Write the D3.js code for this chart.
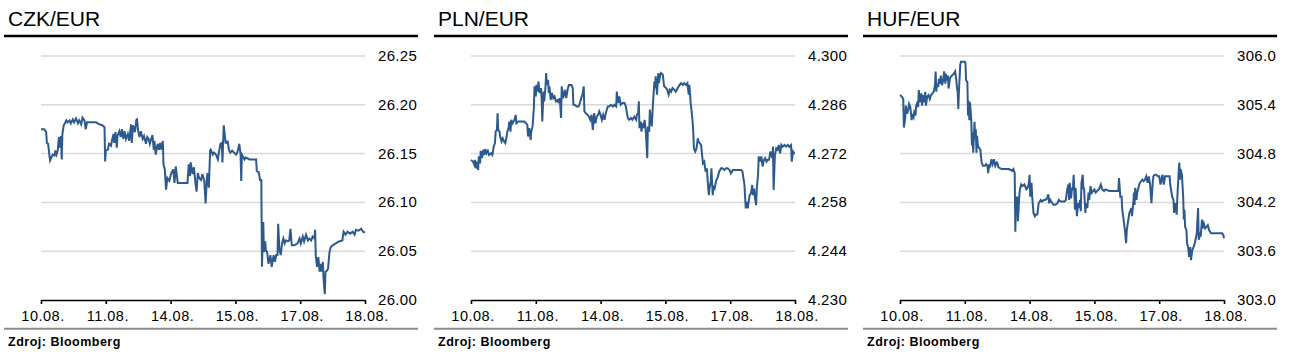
<!DOCTYPE html>
<html>
<head>
<meta charset="utf-8">
<script src="https://cdn.jsdelivr.net/npm/d3@7"></script>
<style>
  html, body { margin: 0; padding: 0; background: #fff; }
  svg { display: block; font-family: "Liberation Sans", Arial, sans-serif; }
</style>
</head>
<body>
<svg id="chart" width="1292" height="355"></svg>
<script>
// Day ticks (categorical trading days, equally spaced)
const dayLabels = ["10.08.", "11.08.", "14.08.", "15.08.", "17.08.", "18.08."];
const titles = ["CZK/EUR", "PLN/EUR", "HUF/EUR"];
const sourceText = "Zdroj: Bloomberg";

const czkTicks = [26.00, 26.05, 26.10, 26.15, 26.20, 26.25];
const plnTicks = [4.230, 4.244, 4.258, 4.272, 4.286, 4.300];
const hufTicks = [303.0, 303.6, 304.2, 304.8, 305.4, 306.0];

// [time in trading days from 10.08., rate]
const czkSeries = [[0,26.175],[0.05,26.175],[0.08,26.172],[0.09,26.161],[0.11,26.160],[0.13,26.148],[0.14,26.143],[0.16,26.146],[0.18,26.149],[0.21,26.148],[0.22,26.153],[0.24,26.149],[0.26,26.154],[0.27,26.163],[0.28,26.167],[0.29,26.156],[0.31,26.168],[0.32,26.144],[0.33,26.170],[0.35,26.179],[0.37,26.181],[0.39,26.184],[0.41,26.182],[0.44,26.184],[0.46,26.181],[0.49,26.185],[0.51,26.182],[0.54,26.186],[0.57,26.181],[0.59,26.184],[0.62,26.180],[0.64,26.187],[0.67,26.184],[0.69,26.175],[0.71,26.182],[0.75,26.182],[0.80,26.182],[0.85,26.182],[0.90,26.180],[0.95,26.179],[0.98,26.177],[0.99,26.142],[1.00,26.153],[1.03,26.154],[1.05,26.160],[1.08,26.158],[1.10,26.165],[1.12,26.170],[1.13,26.161],[1.15,26.172],[1.17,26.156],[1.18,26.168],[1.21,26.173],[1.23,26.167],[1.25,26.175],[1.27,26.165],[1.29,26.173],[1.31,26.165],[1.34,26.170],[1.36,26.163],[1.39,26.180],[1.40,26.161],[1.42,26.179],[1.45,26.172],[1.47,26.184],[1.48,26.186],[1.50,26.173],[1.52,26.167],[1.54,26.173],[1.57,26.165],[1.59,26.168],[1.62,26.160],[1.64,26.167],[1.66,26.165],[1.68,26.160],[1.70,26.165],[1.72,26.169],[1.74,26.154],[1.75,26.163],[1.77,26.149],[1.80,26.160],[1.82,26.154],[1.84,26.161],[1.86,26.154],[1.88,26.163],[1.89,26.139],[1.91,26.134],[1.93,26.113],[1.95,26.125],[1.98,26.122],[2.01,26.130],[2.03,26.132],[2.04,26.134],[2.06,26.120],[2.08,26.137],[2.11,26.120],[2.16,26.120],[2.21,26.120],[2.26,26.120],[2.28,26.139],[2.30,26.127],[2.31,26.141],[2.34,26.129],[2.36,26.136],[2.38,26.122],[2.40,26.111],[2.42,26.130],[2.44,26.125],[2.47,26.123],[2.49,26.129],[2.52,26.122],[2.54,26.099],[2.56,26.125],[2.57,26.130],[2.59,26.115],[2.61,26.153],[2.62,26.154],[2.65,26.149],[2.67,26.151],[2.70,26.149],[2.73,26.144],[2.75,26.153],[2.77,26.160],[2.79,26.161],[2.80,26.141],[2.82,26.179],[2.83,26.173],[2.84,26.167],[2.85,26.161],[2.87,26.161],[2.88,26.163],[2.90,26.154],[2.92,26.151],[2.95,26.153],[2.98,26.151],[3.01,26.149],[3.03,26.151],[3.06,26.160],[3.08,26.149],[3.09,26.122],[3.10,26.149],[3.14,26.144],[3.16,26.146],[3.22,26.144],[3.27,26.144],[3.32,26.144],[3.33,26.132],[3.36,26.131],[3.38,26.123],[3.40,26.123],[3.41,26.034],[3.43,26.080],[3.44,26.049],[3.46,26.060],[3.47,26.051],[3.49,26.049],[3.51,26.037],[3.54,26.046],[3.56,26.034],[3.59,26.046],[3.61,26.039],[3.63,26.046],[3.65,26.046],[3.66,26.078],[3.68,26.051],[3.70,26.046],[3.72,26.058],[3.74,26.063],[3.76,26.058],[3.78,26.061],[3.81,26.060],[3.83,26.061],[3.85,26.073],[3.87,26.056],[3.91,26.056],[3.96,26.058],[3.99,26.063],[4.01,26.058],[4.04,26.065],[4.06,26.060],[4.09,26.067],[4.12,26.061],[4.14,26.063],[4.17,26.061],[4.19,26.065],[4.22,26.063],[4.23,26.072],[4.24,26.046],[4.26,26.034],[4.28,26.044],[4.30,26.029],[4.32,26.037],[4.33,26.029],[4.35,26.039],[4.36,26.022],[4.38,26.006],[4.39,26.029],[4.41,26.030],[4.43,26.032],[4.45,26.048],[4.47,26.054],[4.50,26.056],[4.55,26.058],[4.60,26.060],[4.65,26.061],[4.67,26.070],[4.70,26.067],[4.73,26.070],[4.77,26.068],[4.81,26.070],[4.84,26.067],[4.86,26.072],[4.90,26.071],[4.94,26.073],[4.97,26.070],[5.00,26.069]];

const plnSeries = [[0.00,4.2702],[0.03,4.2697],[0.05,4.2688],[0.06,4.2702],[0.08,4.2678],[0.09,4.2697],[0.11,4.2673],[0.12,4.2712],[0.14,4.2692],[0.15,4.2728],[0.17,4.2707],[0.19,4.2731],[0.21,4.2716],[0.22,4.2733],[0.24,4.2721],[0.26,4.2728],[0.28,4.2716],[0.31,4.2721],[0.33,4.2716],[0.35,4.2740],[0.37,4.2750],[0.38,4.2783],[0.40,4.2788],[0.41,4.2836],[0.42,4.2788],[0.44,4.2783],[0.45,4.2769],[0.47,4.2755],[0.49,4.2764],[0.51,4.2755],[0.53,4.2750],[0.55,4.2769],[0.56,4.2783],[0.58,4.2793],[0.59,4.2812],[0.61,4.2783],[0.62,4.2817],[0.64,4.2807],[0.67,4.2817],[0.69,4.2831],[0.70,4.2807],[0.73,4.2812],[0.77,4.2812],[0.82,4.2812],[0.85,4.2807],[0.87,4.2802],[0.88,4.2769],[0.90,4.2793],[0.92,4.2759],[0.93,4.2783],[0.95,4.2798],[0.97,4.2850],[0.98,4.2913],[1.00,4.2884],[1.01,4.2917],[1.03,4.2898],[1.04,4.2927],[1.06,4.2894],[1.08,4.2908],[1.09,4.2879],[1.10,4.2812],[1.12,4.2898],[1.13,4.2870],[1.15,4.2913],[1.16,4.2951],[1.17,4.2917],[1.19,4.2932],[1.20,4.2894],[1.21,4.2913],[1.23,4.2874],[1.25,4.2894],[1.27,4.2879],[1.29,4.2884],[1.31,4.2870],[1.34,4.2874],[1.35,4.2865],[1.37,4.2879],[1.39,4.2822],[1.40,4.2913],[1.42,4.2879],[1.44,4.2894],[1.45,4.2903],[1.47,4.2879],[1.49,4.2903],[1.51,4.2917],[1.53,4.2917],[1.55,4.2917],[1.57,4.2908],[1.58,4.2860],[1.60,4.2860],[1.63,4.2855],[1.66,4.2855],[1.68,4.2865],[1.70,4.2879],[1.72,4.2889],[1.74,4.2913],[1.75,4.2841],[1.77,4.2836],[1.80,4.2831],[1.82,4.2826],[1.84,4.2817],[1.86,4.2831],[1.88,4.2788],[1.90,4.2836],[1.92,4.2807],[1.94,4.2826],[1.96,4.2831],[1.98,4.2841],[2.00,4.2831],[2.02,4.2817],[2.04,4.2831],[2.06,4.2817],[2.08,4.2836],[2.11,4.2855],[2.13,4.2855],[2.16,4.2860],[2.19,4.2855],[2.21,4.2860],[2.24,4.2855],[2.25,4.2898],[2.27,4.2865],[2.29,4.2884],[2.31,4.2860],[2.34,4.2865],[2.37,4.2865],[2.39,4.2855],[2.42,4.2822],[2.44,4.2817],[2.47,4.2822],[2.49,4.2817],[2.52,4.2826],[2.55,4.2817],[2.56,4.2831],[2.58,4.2836],[2.59,4.2870],[2.60,4.2793],[2.62,4.2812],[2.63,4.2783],[2.65,4.2807],[2.66,4.2793],[2.68,4.2817],[2.70,4.2778],[2.72,4.2707],[2.73,4.2798],[2.75,4.2783],[2.76,4.2846],[2.78,4.2812],[2.79,4.2798],[2.81,4.2870],[2.83,4.2927],[2.84,4.2908],[2.85,4.2942],[2.87,4.2889],[2.89,4.2951],[2.90,4.2922],[2.92,4.2946],[2.93,4.2951],[2.96,4.2946],[2.98,4.2913],[3.01,4.2908],[3.03,4.2903],[3.05,4.2889],[3.07,4.2903],[3.09,4.2898],[3.11,4.2908],[3.14,4.2903],[3.16,4.2898],[3.19,4.2908],[3.22,4.2917],[3.24,4.2922],[3.27,4.2917],[3.29,4.2922],[3.32,4.2917],[3.34,4.2922],[3.36,4.2889],[3.37,4.2917],[3.39,4.2865],[3.41,4.2831],[3.42,4.2812],[3.43,4.2783],[3.44,4.2735],[3.46,4.2726],[3.48,4.2735],[3.50,4.2764],[3.51,4.2755],[3.53,4.2750],[3.55,4.2745],[3.58,4.2692],[3.60,4.2697],[3.62,4.2668],[3.64,4.2678],[3.65,4.2649],[3.67,4.2601],[3.68,4.2620],[3.70,4.2640],[3.71,4.2678],[3.73,4.2601],[3.74,4.2625],[3.76,4.2620],[3.78,4.2640],[3.81,4.2654],[3.83,4.2668],[3.86,4.2678],[3.88,4.2678],[3.91,4.2673],[3.94,4.2678],[3.96,4.2678],[3.99,4.2673],[4.01,4.2663],[4.04,4.2673],[4.06,4.2673],[4.12,4.2673],[4.17,4.2673],[4.19,4.2668],[4.20,4.2654],[4.21,4.2644],[4.22,4.2630],[4.24,4.2563],[4.25,4.2582],[4.27,4.2563],[4.30,4.2601],[4.32,4.2606],[4.34,4.2630],[4.35,4.2601],[4.37,4.2620],[4.38,4.2596],[4.40,4.2572],[4.41,4.2620],[4.43,4.2659],[4.44,4.2712],[4.46,4.2697],[4.48,4.2712],[4.50,4.2683],[4.52,4.2702],[4.54,4.2707],[4.56,4.2697],[4.58,4.2702],[4.60,4.2702],[4.62,4.2726],[4.65,4.2707],[4.66,4.2740],[4.67,4.2616],[4.69,4.2716],[4.71,4.2735],[4.73,4.2731],[4.75,4.2745],[4.77,4.2721],[4.79,4.2745],[4.81,4.2740],[4.84,4.2745],[4.86,4.2740],[4.89,4.2745],[4.91,4.2740],[4.94,4.2745],[4.95,4.2697],[4.97,4.2726],[4.99,4.2721],[5.00,4.2721]];

const hufSeries = [[0.00,305.52],[0.03,305.50],[0.05,305.47],[0.06,305.12],[0.08,305.23],[0.09,305.39],[0.11,305.29],[0.13,305.35],[0.14,305.41],[0.16,305.37],[0.18,305.21],[0.19,305.29],[0.21,305.25],[0.22,305.31],[0.24,305.27],[0.25,305.39],[0.27,305.43],[0.28,305.37],[0.29,305.58],[0.31,305.43],[0.33,305.54],[0.34,305.39],[0.36,305.52],[0.37,305.43],[0.39,305.56],[0.40,305.39],[0.42,305.50],[0.44,305.52],[0.46,305.47],[0.48,305.52],[0.50,305.54],[0.52,305.56],[0.54,305.64],[0.55,305.81],[0.56,305.56],[0.57,305.66],[0.59,305.62],[0.60,305.72],[0.62,305.66],[0.63,305.76],[0.65,305.64],[0.67,305.72],[0.68,305.81],[0.70,305.66],[0.71,305.78],[0.72,305.70],[0.74,305.76],[0.75,305.60],[0.77,305.72],[0.78,305.74],[0.80,305.76],[0.83,305.78],[0.85,305.81],[0.87,305.70],[0.88,305.60],[0.89,305.56],[0.90,305.35],[0.91,305.58],[0.93,305.89],[0.94,305.93],[0.97,305.93],[1.00,305.93],[1.01,305.91],[1.02,305.70],[1.04,305.68],[1.05,305.27],[1.06,305.45],[1.07,305.21],[1.08,305.43],[1.10,305.21],[1.11,304.90],[1.12,305.06],[1.13,304.81],[1.15,305.19],[1.16,304.98],[1.17,305.10],[1.18,304.81],[1.19,305.02],[1.20,304.90],[1.22,304.87],[1.24,304.85],[1.26,304.69],[1.28,304.65],[1.31,304.65],[1.33,304.67],[1.35,304.65],[1.36,304.56],[1.38,304.67],[1.39,304.63],[1.41,304.73],[1.43,304.67],[1.45,304.73],[1.47,304.65],[1.49,304.69],[1.50,304.69],[1.52,304.63],[1.57,304.61],[1.63,304.61],[1.68,304.61],[1.73,304.59],[1.75,304.61],[1.77,304.56],[1.78,303.84],[1.79,304.23],[1.81,304.27],[1.82,303.97],[1.84,304.27],[1.85,304.36],[1.87,304.42],[1.89,304.40],[1.92,304.42],[1.95,304.36],[1.97,304.38],[1.99,304.44],[2.00,304.54],[2.01,304.27],[2.03,304.44],[2.04,304.27],[2.06,304.07],[2.08,304.03],[2.10,304.05],[2.12,304.05],[2.14,304.19],[2.17,304.23],[2.19,304.21],[2.22,304.23],[2.24,304.23],[2.27,304.25],[2.29,304.30],[2.30,304.19],[2.32,304.23],[2.35,304.19],[2.37,304.17],[2.40,304.17],[2.43,304.19],[2.45,304.23],[2.48,304.21],[2.50,304.21],[2.54,304.21],[2.56,304.23],[2.58,304.36],[2.60,304.42],[2.61,304.23],[2.62,304.44],[2.64,304.25],[2.65,304.34],[2.67,304.40],[2.68,304.54],[2.70,304.11],[2.71,304.38],[2.73,304.03],[2.75,304.19],[2.76,304.13],[2.78,304.23],[2.79,304.09],[2.80,304.44],[2.82,304.54],[2.83,304.36],[2.84,304.38],[2.86,304.07],[2.87,304.19],[2.89,304.13],[2.91,304.32],[2.92,304.23],[2.94,304.40],[2.96,304.32],[2.98,304.34],[3.00,304.36],[3.02,304.32],[3.04,304.34],[3.07,304.36],[3.10,304.42],[3.12,304.36],[3.15,304.34],[3.17,304.36],[3.23,304.34],[3.28,304.34],[3.33,304.34],[3.37,304.34],[3.38,304.50],[3.40,304.27],[3.42,304.27],[3.43,304.11],[3.45,303.99],[3.47,303.86],[3.49,303.70],[3.50,303.86],[3.52,303.97],[3.54,304.07],[3.57,304.13],[3.58,304.03],[3.60,304.19],[3.61,304.32],[3.62,304.17],[3.63,304.38],[3.65,304.23],[3.66,304.32],[3.68,304.38],[3.70,304.44],[3.72,304.46],[3.74,304.48],[3.76,304.46],[3.78,304.48],[3.80,304.52],[3.82,304.44],[3.84,304.52],[3.86,304.42],[3.88,304.19],[3.90,304.44],[3.91,304.52],[3.93,304.54],[3.95,304.54],[3.98,304.52],[4.00,304.52],[4.02,304.42],[4.05,304.54],[4.07,304.42],[4.09,304.52],[4.12,304.52],[4.14,304.52],[4.16,304.52],[4.17,304.42],[4.20,304.27],[4.22,304.23],[4.23,304.07],[4.25,304.19],[4.27,304.05],[4.28,304.27],[4.30,304.56],[4.31,304.69],[4.32,304.48],[4.33,304.61],[4.35,304.54],[4.37,304.27],[4.38,303.99],[4.39,304.11],[4.40,303.90],[4.42,303.86],[4.43,303.70],[4.45,303.63],[4.46,303.53],[4.48,303.65],[4.49,303.49],[4.51,303.61],[4.53,303.65],[4.55,303.70],[4.57,303.78],[4.58,303.82],[4.60,304.13],[4.61,303.74],[4.63,303.80],[4.64,303.78],[4.66,303.99],[4.67,303.88],[4.69,303.94],[4.71,303.88],[4.73,303.90],[4.75,303.92],[4.77,303.86],[4.80,303.82],[4.82,303.82],[4.88,303.82],[4.93,303.82],[4.97,303.82],[4.99,303.80],[5.00,303.76]];

const panels = [
  { ox: 0,   title: titles[0], series: czkSeries, ticks: czkTicks, fmt: d3.format(".2f") },
  { ox: 430, title: titles[1], series: plnSeries, ticks: plnTicks, fmt: d3.format(".3f") },
  { ox: 859, title: titles[2], series: hufSeries, ticks: hufTicks, fmt: d3.format(".1f") }
];

const svg = d3.select("#chart");
svg.append("rect").attr("width", 1292).attr("height", 355).attr("fill", "#fff");

const LINE_COLOR = "#2c5a8e";
const plotTop = 56, plotBottom = 300, plotLeft = 41, plotRight = 365;

panels.forEach(p => {
  const g = svg.append("g").attr("transform", `translate(${p.ox},0)`);

  // title
  g.append("text").attr("x", 8).attr("y", 26)
    .attr("font-size", 21).attr("fill", "#000").text(p.title);
  // top black rule
  g.append("line").attr("x1", 4).attr("x2", 418).attr("y1", 36).attr("y2", 36)
    .attr("stroke", "#000").attr("stroke-width", 2.6);

  const x = d3.scaleLinear().domain([0, dayLabels.length - 1]).range([plotLeft, plotRight]);
  const y = d3.scaleLinear().domain([p.ticks[0], p.ticks[p.ticks.length - 1]]).range([plotBottom, plotTop]);

  // gridlines
  g.selectAll("line.grid").data(p.ticks.slice(1)).join("line")
    .attr("class", "grid")
    .attr("x1", plotLeft).attr("x2", plotRight)
    .attr("y1", d => y(d)).attr("y2", d => y(d))
    .attr("stroke", "#d9d9d9").attr("stroke-width", 1.5);

  // y labels (right)
  g.selectAll("text.ylab").data(p.ticks).join("text")
    .attr("class", "ylab")
    .attr("x", 378).attr("y", d => y(d) + 5)
    .attr("font-size", 15).attr("fill", "#000")
    .attr("letter-spacing", 0.3)
    .text(d => p.fmt(d));

  // series line
  const line = d3.line().x(d => x(d[0])).y(d => y(d[1]));
  g.append("path").datum(p.series)
    .attr("d", line).attr("fill", "none")
    .attr("stroke", LINE_COLOR).attr("stroke-width", 2)
    .attr("stroke-linejoin", "miter");

  // x axis
  const xAxis = d3.axisBottom(x)
    .tickValues(d3.range(dayLabels.length))
    .tickFormat(i => dayLabels[i])
    .tickSize(4).tickSizeOuter(0).tickPadding(6.5);
  const ax = g.append("g").attr("transform", `translate(0,${plotBottom})`).call(xAxis);
  ax.select(".domain").attr("stroke", "#000").attr("stroke-width", 1.6);
  ax.selectAll(".tick line").attr("stroke", "#000").attr("stroke-width", 1.6);
  ax.selectAll(".tick text")
    .attr("font-family", "Liberation Sans, Arial, sans-serif")
    .attr("font-size", 14.5).attr("fill", "#000")
    .attr("letter-spacing", 0.5)
    .attr("dx", 1.5);

  // bottom grey rule
  g.append("line").attr("x1", 4).attr("x2", 418).attr("y1", 328.7).attr("y2", 328.7)
    .attr("stroke", "#8c8c8c").attr("stroke-width", 2);

  // source
  g.append("text").attr("x", 8).attr("y", 345.5)
    .attr("font-size", 12.5).attr("font-weight", "bold").attr("fill", "#000")
    .attr("letter-spacing", 0.5)
    .text(sourceText);
});
</script>
</body>
</html>
